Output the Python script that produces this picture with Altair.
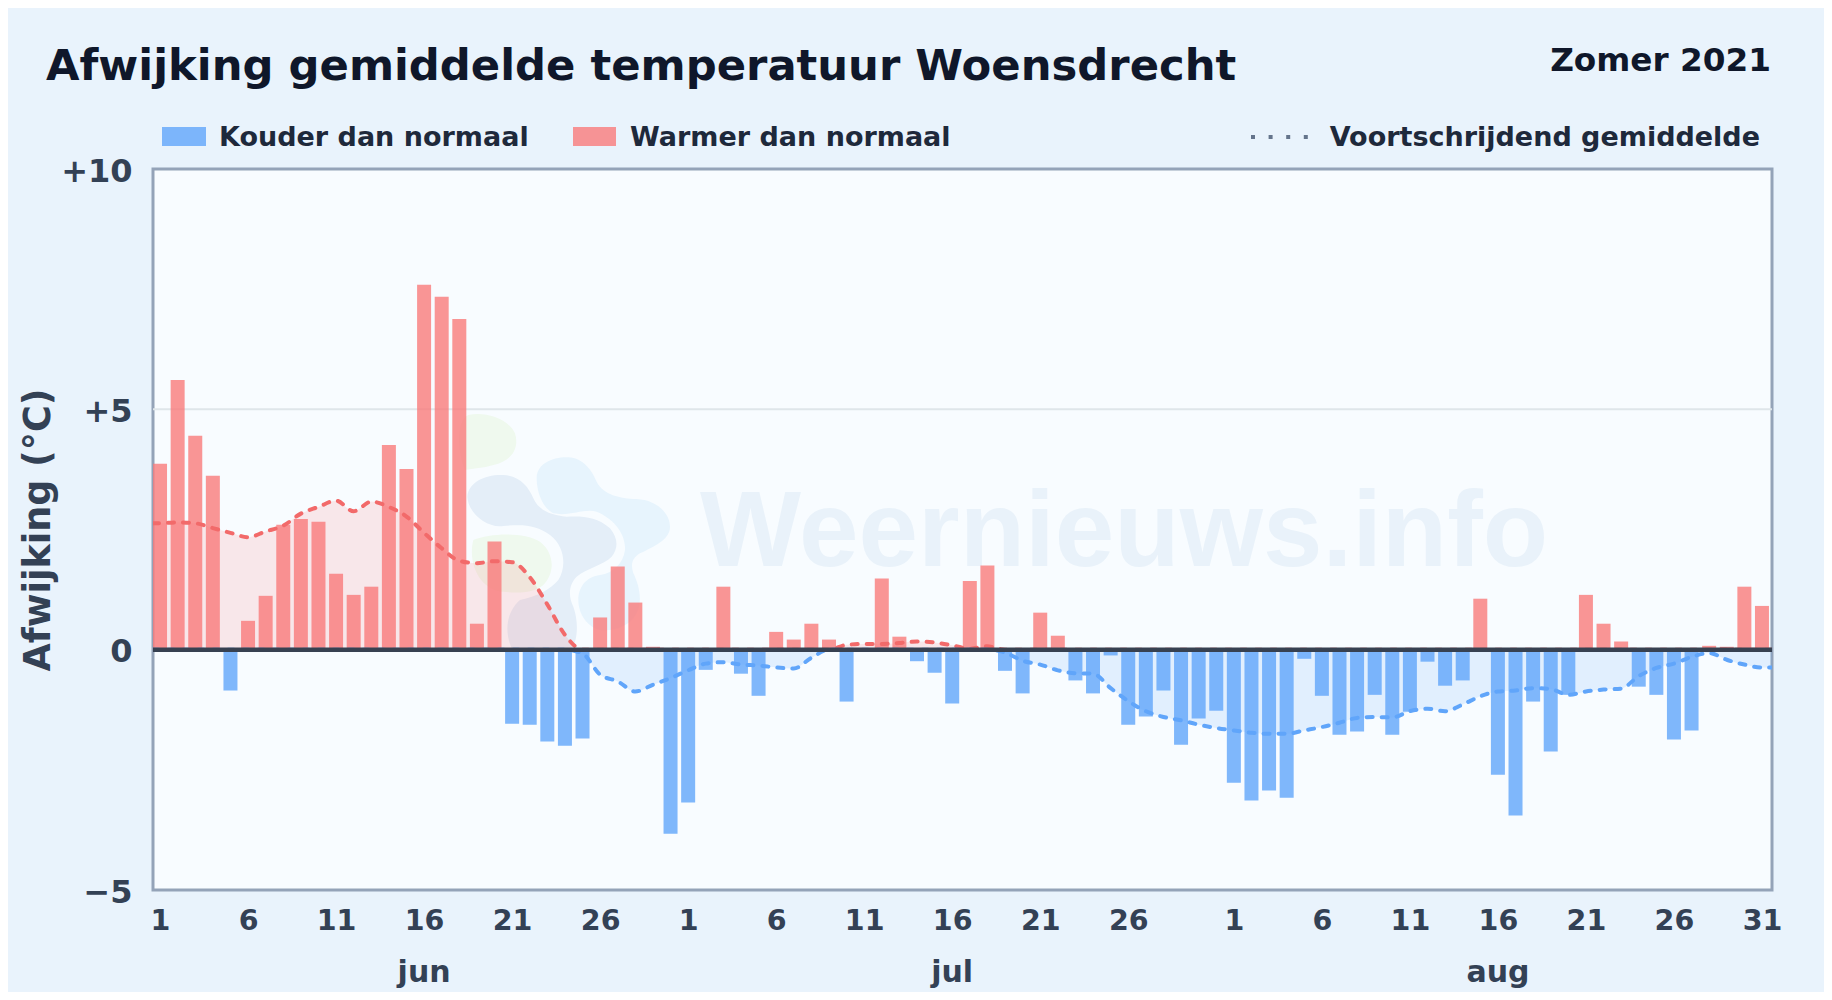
import json
import altair as alt
import pandas as pd

title_text = "Afwijking gemiddelde temperatuur Woensdrecht"
period_text = "Zomer 2021"
legend_cold = "Kouder dan normaal"
legend_warm = "Warmer dan normaal"
legend_avg = "Voortschrijdend gemiddelde"
y_title = "Afwijking (°C)"
watermark = "Weernieuws.info"

month_names = ["jun", "jul", "aug"]
month_lengths = [30, 31, 31]

june = [3.87, 5.61, 4.45, 3.62, -0.85, 0.60, 1.12, 2.60, 2.72, 2.66, 1.58, 1.14, 1.31, 4.26, 3.76,
        7.59, 7.34, 6.88, 0.54, 2.25, -1.54, -1.56, -1.91, -2.00, -1.85, 0.67, 1.73, 0.98, 0.06, -3.83]
july = [-3.18, -0.42, 1.31, -0.50, -0.96, 0.37, 0.21, 0.54, 0.21, -1.08, 0.0, 1.48, 0.27, -0.24, -0.48,
        -1.12, 1.43, 1.75, -0.44, -0.91, 0.77, 0.29, -0.64, -0.91, -0.12, -1.56, -1.39, -0.85, -1.98, -1.43, -1.27]
august = [-2.77, -3.14, -2.93, -3.08, -0.19, -0.96, -1.77, -1.70, -0.94, -1.77, -1.29, -0.25, -0.75, -0.64, 1.06,
          -2.60, -3.45, -1.08, -2.12, -0.94, 1.14, 0.54, 0.17, -0.77, -0.94, -1.87, -1.68, 0.08, 0.06, 1.31, 0.91]

avg_june = [2.63, 2.65, 2.63, 2.53, 2.43, 2.34, 2.46, 2.58, 2.83, 2.97, 3.10, 2.88, 3.08, 2.97, 2.77,
            2.43, 2.11, 1.85, 1.80, 1.84, 1.82, 1.51, 0.94, 0.31, -0.08, -0.52, -0.66, -0.87, -0.73, -0.59]
avg_july = [-0.43, -0.29, -0.26, -0.31, -0.33, -0.37, -0.39, -0.17, 0.0, 0.10, 0.12, 0.12, 0.14, 0.17, 0.15,
            0.09, 0.02, 0.07, -0.06, -0.23, -0.31, -0.43, -0.49, -0.50, -0.80, -1.07, -1.28, -1.40, -1.47, -1.56, -1.63]
avg_august = [-1.68, -1.73, -1.75, -1.75, -1.68, -1.61, -1.52, -1.42, -1.40, -1.41, -1.28, -1.23, -1.28, -1.14, -0.97,
              -0.87, -0.85, -0.80, -0.82, -0.94, -0.87, -0.83, -0.81, -0.55, -0.38, -0.29, -0.15, -0.07, -0.21, -0.31, -0.37]

y_ticks = [-5, 0, 5, 10]
y_labels = ["−5", "0", "+5", "+10"]
x_domain = [-0.4, 91.57]

BG = "#e9f3fc"
PLOT = "#f8fcff"
RED = "#f87171"
BAR_RED = "#f97a7a"
BLUE = "#60a5fa"
INK = "#0f172a"
INK2 = "#1e293b"
AXIS = "#334155"
FONT = "DejaVu Sans"

values = june + july + august
avg = avg_june + avg_july + avg_august
days = [d for n in month_lengths for d in range(1, n + 1)]
idx = list(range(len(values)))
bars = pd.DataFrame({"i": idx, "v": values,
                     "kind": ["warm" if v >= 0 else "cold" for v in values]})

line_x = [x_domain[0]] + idx + [x_domain[1]]
line_v = [avg[0]] + avg + [avg[-1]]
line = pd.DataFrame({"i": line_x, "pos": [max(v, 0) for v in line_v], "neg": [min(v, 0) for v in line_v]})

x_vals = [i for i in idx if (days[i] - 1) % 5 == 0 and not (days[i] == 31 and i != idx[-1])]
x_expr = json.dumps([str(d) for d in days]) + "[datum.value]"
y_expr = "{" + ",".join(f"'{t}':'{l}'" for t, l in zip(y_ticks, y_labels)) + "}[datum.value]"

starts = [sum(month_lengths[:k]) for k in range(3)]
months = pd.DataFrame({"i": [s + 15 for s in starts], "m": month_names})

one = pd.DataFrame({"a": [0]})
x_scale = alt.Scale(domain=x_domain, nice=False, zero=False, padding=0)
y_scale = alt.Scale(domain=[-5, 10], nice=False)
X = alt.X("i:Q", scale=x_scale, title=None,
          axis=alt.Axis(values=x_vals, labelExpr=x_expr, domain=False, ticks=False, grid=False,
                        labelFont=FONT, labelFontSize=28.5, labelFontWeight="bold", labelColor=AXIS,
                        labelPadding=16, labelOverlap=False, labelFlush=False))


def page_text(txt, px, py, size, color=INK2, align="left", **kw):
    return alt.Chart(one).mark_text(text=txt, font=FONT, fontWeight="bold", fontSize=size, color=color,
                                    align=align, baseline="alphabetic", **kw).encode(
        x=alt.value(px - 153), y=alt.value(py - 169))


# Watermark logo, in crop units: scale 1/3 with anchor at page (440, 400).
BLOB_GREEN_TOP = "M 85 45 C 130 35 200 50 225 100 C 240 150 210 185 160 195 C 130 205 100 205 75 210 C 50 150 50 60 85 45 Z"
BLOB_GREEN_LOW = "M 100 420 C 150 400 250 395 300 425 C 345 460 345 520 310 555 C 280 580 230 580 190 575 C 130 575 80 500 100 420 Z"
BLOB_DARK = ("M 82 290 C 85 245 140 222 190 225 C 240 228 265 260 280 295 C 295 330 330 345 380 350 "
             "C 430 348 470 350 510 385 C 535 415 535 445 515 470 C 490 495 440 505 410 530 "
             "C 385 555 385 590 400 620 C 415 660 415 720 395 745 L 215 745 C 195 700 195 640 240 600 "
             "C 290 590 330 570 355 540 C 380 500 375 440 330 405 C 290 375 250 372 190 378 C 140 385 85 340 82 290 Z")
BLOB_LIGHT = ("M 290 235 C 290 190 340 170 385 172 C 430 175 455 210 470 245 C 490 285 540 295 590 297 "
              "C 650 300 690 340 690 380 C 690 420 640 440 600 460 C 575 475 572 495 580 520 "
              "C 595 550 610 600 590 640 C 570 680 520 695 480 690 C 440 680 415 640 415 600 "
              "C 415 560 440 530 480 525 C 520 520 550 490 555 450 C 558 410 530 360 470 335 "
              "C 430 325 390 350 340 340 C 310 325 290 280 290 235 Z")


def blob(path, color):
    return alt.Chart(one).mark_point(shape=path, size=4 / 9, filled=True, fill=color, opacity=1,
                                     strokeWidth=0, clip=False).encode(
        x=alt.value(440 - 153), y=alt.value(400 - 169))


logo = [blob(BLOB_GREEN_TOP, "#eff9ee"), blob(BLOB_GREEN_LOW, "#eff9ee"),
        blob(BLOB_LIGHT, "#e7f4fd"), blob(BLOB_DARK, "#e4eef8")]

wm = alt.Chart(one).mark_text(text=watermark, font="Liberation Sans", fontWeight="bold", fontSize=107,
                              color="#e9f2fa", align="left", baseline="alphabetic").encode(
    x=alt.value(700 - 153), y=alt.value(566 - 169))

grid = alt.Chart(pd.DataFrame({"y": [5]})).mark_rule(color="#dfe6ea", strokeWidth=2).encode(
    y=alt.Y("y:Q", scale=y_scale))

area_pos = alt.Chart(line).mark_area(color=RED, opacity=0.15, interpolate="monotone", clip=True).encode(
    x=X, y=alt.Y("pos:Q", scale=y_scale))
area_neg = alt.Chart(line).mark_area(color=BLUE, opacity=0.15, interpolate="monotone", clip=True).encode(
    x=X, y=alt.Y("neg:Q", scale=y_scale))

bar = alt.Chart(bars).mark_bar(size=14, opacity=0.8).encode(
    x=X,
    y=alt.Y("v:Q", scale=y_scale, title=y_title,
            axis=alt.Axis(values=y_ticks, labelExpr=y_expr, domain=False, ticks=False, grid=False,
                          labelFont=FONT, labelFontSize=32, labelFontWeight="bold", labelColor=AXIS,
                          labelPadding=21, labelOverlap=False, labelFlush=False, labelOffset=2,
                          titleFont=FONT, titleFontSize=36.5, titleFontWeight="bold", titleColor=AXIS,
                          titlePadding=3)),
    y2=alt.datum(0),
    color=alt.Color("kind:N", scale=alt.Scale(domain=["warm", "cold"], range=[BAR_RED, BLUE]), legend=None),
)

DASH = [6, 9]
line_pos = alt.Chart(line).mark_line(color="#f26a6a", strokeWidth=4, strokeDash=DASH, strokeCap="round",
                                     interpolate="monotone", clip=True).encode(x=X, y=alt.Y("pos:Q", scale=y_scale))
line_neg = alt.Chart(line).mark_line(color="#60a5fa", strokeWidth=4, strokeDash=DASH, strokeCap="round",
                                     interpolate="monotone", clip=True).encode(x=X, y=alt.Y("neg:Q", scale=y_scale))

zero = alt.Chart(pd.DataFrame({"y": [0]})).mark_rule(color="#374151", strokeWidth=4.5).encode(
    y=alt.Y("y:Q", scale=y_scale))

month_text = alt.Chart(months).mark_text(font=FONT, fontWeight="bold", fontSize=30, color=AXIS,
                                         baseline="alphabetic").encode(
    x=X, y=alt.value(982 - 169), text="m:N")

swatch_cold = alt.Chart(one).mark_rect(color=BLUE, opacity=0.8).encode(
    x=alt.value(162 - 153), x2=alt.value(206 - 153), y=alt.value(127 - 169), y2=alt.value(146 - 169))
swatch_warm = alt.Chart(one).mark_rect(color=BAR_RED, opacity=0.8).encode(
    x=alt.value(573 - 153), x2=alt.value(616 - 153), y=alt.value(127 - 169), y2=alt.value(146 - 169))
swatch_avg = alt.Chart(one).mark_rule(color="#64748b", strokeWidth=4, strokeDash=[4, 13.6]).encode(
    x=alt.value(1251 - 153), x2=alt.value(1308 - 153), y=alt.value(137 - 169))

chart = alt.layer(
    *logo, wm, grid, area_pos, area_neg, bar, line_pos, line_neg, zero, month_text,
    swatch_cold, swatch_warm, swatch_avg,
    page_text(title_text, 46, 80, 43.3, INK),
    page_text(period_text, 1771, 71, 32.7, INK, align="right"),
    page_text(legend_cold, 219, 146, 27),
    page_text(legend_warm, 630, 146, 27),
    page_text(legend_avg, 1760, 146, 27, align="right"),
).properties(
    width=1619, height=721,
    autosize=alt.AutoSizeParams(type="none"),
    padding={"left": 145, "top": 161, "right": 52, "bottom": 102},
    background=BG,
).configure_view(fill=PLOT, stroke="#94a3b8", strokeWidth=3)

chart.save("out.html", embed_options={"renderer": "svg", "actions": False})
